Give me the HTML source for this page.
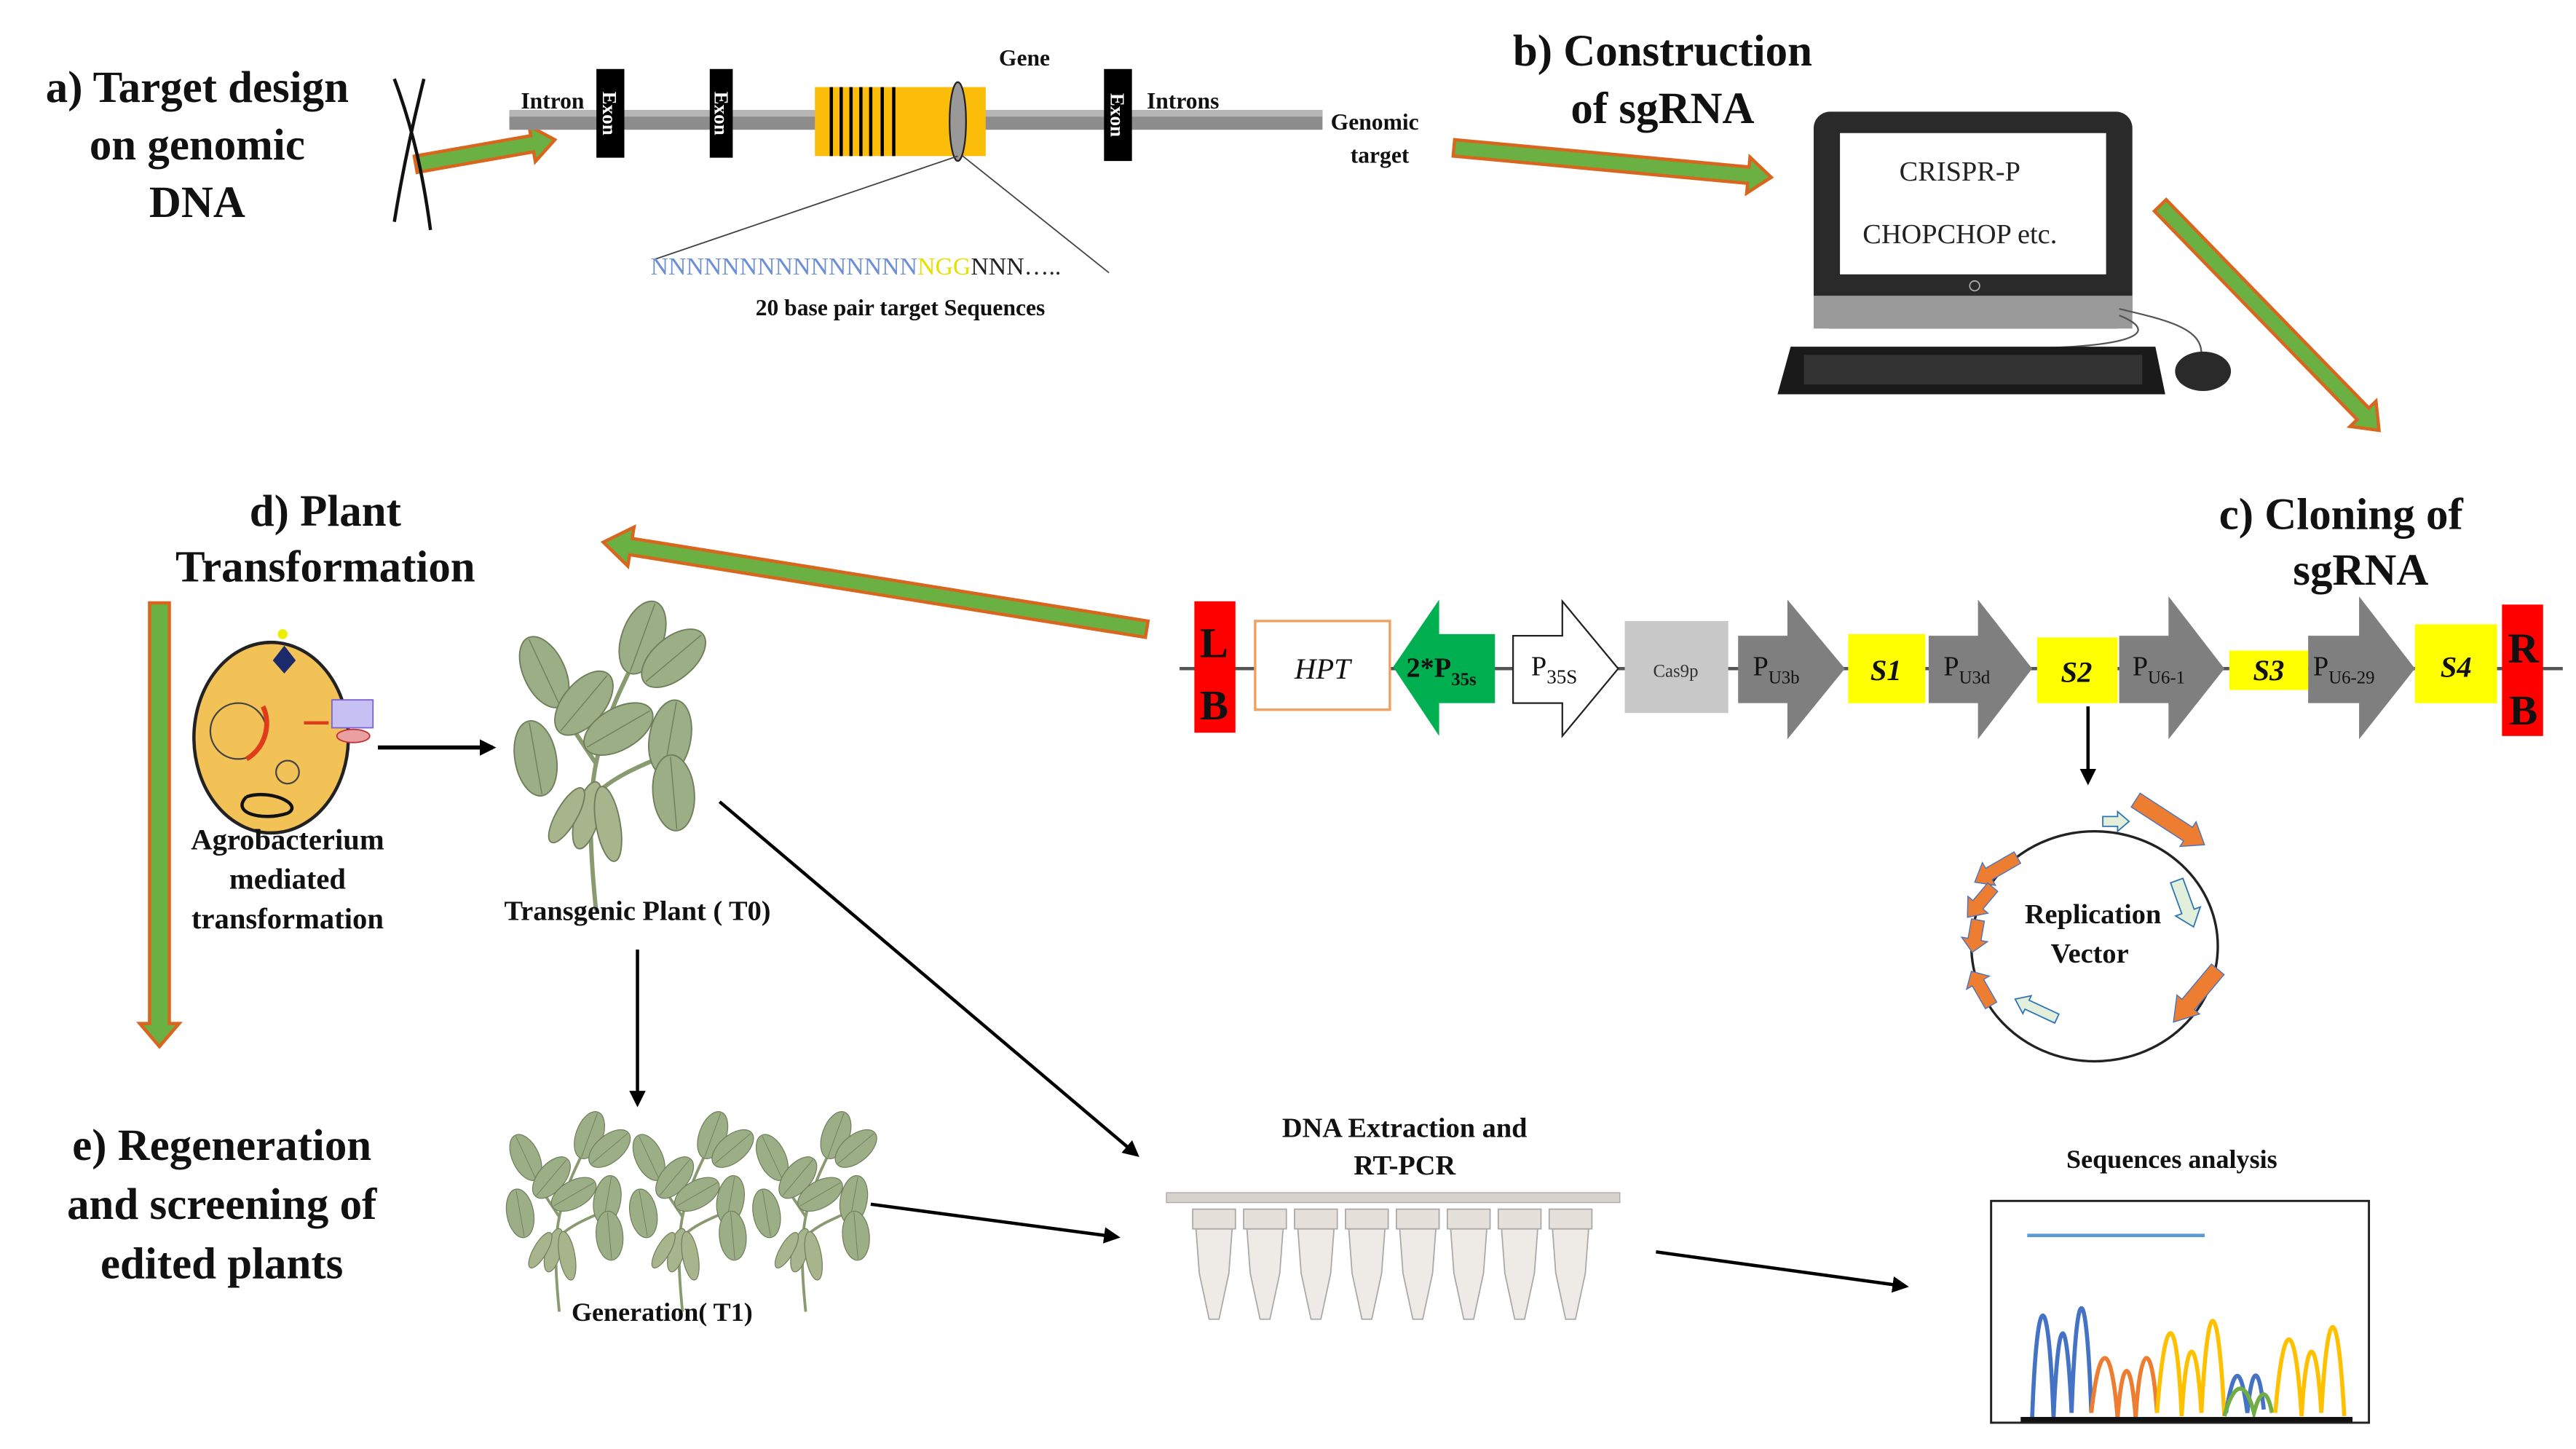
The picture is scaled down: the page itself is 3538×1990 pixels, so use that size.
<!DOCTYPE html>
<html><head><meta charset="utf-8"><style>
html,body{margin:0;padding:0;background:#fff;}
svg{display:block;}
text{font-family:"Liberation Serif",serif;}
.h{font-weight:bold;font-size:27px;fill:#111;text-anchor:middle;}
.b{font-weight:bold;fill:#111;}
</style></head><body>
<svg width="3538" height="1990" viewBox="0 0 1568 882" xmlns="http://www.w3.org/2000/svg">
<defs>
<marker id="ah" markerWidth="10" markerHeight="10" refX="8" refY="5" orient="auto" markerUnits="userSpaceOnUse"><path d="M0,0 L10,5 L0,10 z" fill="#000"/></marker>
<g id="leaf"><ellipse cx="0" cy="0" rx="12" ry="22" fill="#9cae86" stroke="#6f7f5c" stroke-width="0.8"/><line x1="0" y1="-21" x2="0" y2="21" stroke="#6f7f5c" stroke-width="0.6"/></g>
<g id="plant">
<path d="M55,180 C52,150 50,120 55,95 C60,70 70,50 80,30 M55,95 C45,80 35,65 25,50 M58,110 C70,100 85,95 95,90" stroke="#8a9a70" stroke-width="2.5" fill="none"/>
<use href="#leaf" transform="translate(25,42) rotate(-25)"/>
<use href="#leaf" transform="translate(82,22) rotate(20)"/>
<use href="#leaf" transform="translate(100,34) rotate(50)"/>
<use href="#leaf" transform="translate(48,60) rotate(40)"/>
<use href="#leaf" transform="translate(20,92) rotate(-10)"/>
<use href="#leaf" transform="translate(68,75) rotate(60)"/>
<use href="#leaf" transform="translate(98,80) rotate(10)"/>
<use href="#leaf" transform="translate(100,112) rotate(-5)"/>
<ellipse cx="50" cy="125" rx="7" ry="20" fill="#a8b48c" stroke="#6f7f5c" stroke-width="0.8" transform="rotate(15 50 125)"/>
<ellipse cx="62" cy="130" rx="7" ry="22" fill="#a8b48c" stroke="#6f7f5c" stroke-width="0.8" transform="rotate(-10 62 130)"/>
<ellipse cx="38" cy="125" rx="6" ry="18" fill="#a8b48c" stroke="#6f7f5c" stroke-width="0.8" transform="rotate(30 38 125)"/>
</g>
<g id="tube">
<path d="M0,748 L22,748 L20,775 L14,803 L8,803 L2,775 Z" fill="#eeeae6" stroke="#aaa" stroke-width="0.8"/>
<rect x="-2" y="736" width="26" height="12" fill="#e6e0da" stroke="#aaa" stroke-width="0.8"/>
</g>
</defs>

<g fill="#6ab043" stroke="#d9661e" stroke-width="2">
<polygon transform="translate(253,100) rotate(-10)" points="0,-5 72,-5 72,-11 86,0 72,11 72,5 0,5"/>
<polygon transform="translate(885,90) rotate(5.3)" points="0,-5 180,-5 180,-11 194,0 180,11 180,5 0,5"/>
<polygon transform="translate(1315,125) rotate(45.8)" points="0,-5 177,-5 177,-11 191,0 177,11 177,5 0,5"/>
<polygon transform="translate(698,383) rotate(189.1)" points="0,-5 318,-5 318,-12 335,0 318,12 318,5 0,5"/>
<polygon transform="translate(97,367) rotate(90)" points="0,-6 256,-6 256,-12 270,0 256,12 256,6 0,6"/>
</g>

<text class="h" x="120" y="62">a) Target design</text>
<text class="h" x="120" y="97">on genomic</text>
<text class="h" x="120" y="132">DNA</text>
<path d="M240,48 C252,80 258,110 262,140 M258,48 C250,80 244,110 240,135" stroke="#111" stroke-width="2" fill="none"/>
<rect x="310" y="67" width="495" height="12" fill="#8d8d8d"/>
<rect x="310" y="67" width="495" height="4" fill="#b5b5b5"/>
<g fill="#000"><rect x="363" y="42" width="17" height="54"/><rect x="432" y="42" width="14" height="54"/><rect x="672" y="42" width="17" height="56"/></g>
<g font-family="Liberation Serif" font-weight="bold" font-size="12" fill="#fff" text-anchor="middle">
<text transform="translate(367,69) rotate(90)">Exon</text>
<text transform="translate(435,69) rotate(90)">Exon</text>
<text transform="translate(676,70) rotate(90)">Exon</text>
</g>
<rect x="496" y="53" width="104" height="42" fill="#fbbd0a"/>
<g stroke="#000" stroke-width="2"><line x1="506" y1="53" x2="506" y2="95"/><line x1="512" y1="53" x2="512" y2="95"/><line x1="518" y1="53" x2="518" y2="95"/><line x1="524" y1="53" x2="524" y2="95"/><line x1="530" y1="53" x2="530" y2="95"/><line x1="537" y1="53" x2="537" y2="95"/><line x1="544" y1="53" x2="544" y2="95"/></g>
<ellipse cx="583" cy="74" rx="5" ry="24" fill="#999" stroke="#222" stroke-width="1"/>
<line x1="583" y1="95" x2="398" y2="158" stroke="#444" stroke-width="0.8"/>
<line x1="586" y1="95" x2="675" y2="166" stroke="#444" stroke-width="0.8"/>
<text class="b" x="317" y="66" font-size="14">Intron</text>
<text class="b" x="698" y="66" font-size="14">Introns</text>
<text class="b" x="608" y="40" font-size="14">Gene</text>
<text class="b" x="810" y="79" font-size="14">Genomic</text>
<text class="b" x="822" y="99" font-size="14">target</text>
<text x="396" y="167" font-size="15"><tspan fill="#6c8fd6">NNNNNNNNNNNNNNN</tspan><tspan fill="#e6e000">NGG</tspan><tspan fill="#222">NNN…..</tspan></text>
<text class="b" x="548" y="192" font-size="14" text-anchor="middle">20 base pair target Sequences</text>

<text class="h" x="1012" y="40">b) Construction</text>
<text class="h" x="1012" y="75">of sgRNA</text>
<rect x="1104" y="68" width="194" height="132" rx="10" fill="#2a2a2a"/>
<rect x="1104" y="180" width="194" height="20" fill="#9a9a9a"/>
<rect x="1120" y="81" width="162" height="86" fill="#fff"/>
<circle cx="1202" cy="174" r="3" fill="none" stroke="#aaa" stroke-width="0.8"/>
<text x="1193" y="110" font-size="17" text-anchor="middle" fill="#222">CRISPR-P</text>
<text x="1193" y="148" font-size="17" text-anchor="middle" fill="#222">CHOPCHOP etc.</text>
<path d="M1290,188 C1320,195 1340,200 1340,215" stroke="#555" stroke-width="1" fill="none"/>
<path d="M1290,192 C1310,200 1310,210 1240,212" stroke="#555" stroke-width="1" fill="none"/>
<polygon points="1090,211 1312,211 1318,240 1082,240" fill="#1a1a1a"/>
<rect x="1098" y="216" width="206" height="18" fill="#333"/>
<ellipse cx="1341" cy="226" rx="17" ry="12" fill="#2a2a2a"/>

<text class="h" x="1425" y="322">c) Cloning of</text>
<text class="h" x="1437" y="356">sgRNA</text>
<line x1="718" y1="407" x2="1560" y2="407" stroke="#555" stroke-width="2"/>
<rect x="727" y="366" width="25" height="80" fill="#ff0000"/>
<text class="b" x="739" y="400" font-size="26" text-anchor="middle">L</text>
<text class="b" x="739" y="438" font-size="26" text-anchor="middle">B</text>
<rect x="764" y="378" width="82" height="54" fill="#fff" stroke="#f0a060" stroke-width="1.5"/>
<text x="805" y="413" font-size="18" font-style="italic" text-anchor="middle" fill="#111">HPT</text>
<polygon points="848,406 876,365 876,386 910,386 910,428 876,428 876,448" fill="#00b050"/>
<text class="b" x="856" y="412" font-size="17">2*P<tspan font-size="11" dy="5">35s</tspan></text>
<polygon points="921,387 951,387 951,366 985,407 951,448 951,428 921,428" fill="#fff" stroke="#222" stroke-width="1"/>
<text x="932" y="411" font-size="17" fill="#111">P<tspan font-size="12" dy="5">35S</tspan></text>
<rect x="989" y="378" width="63" height="56" fill="#c8c8c8"/>
<text x="1020" y="412" font-size="11" text-anchor="middle" fill="#333">Cas9p</text>
<g fill="#7f7f7f">
<polygon points="1058,387 1088,387 1088,365 1123,407 1088,450 1088,428 1058,428"/>
<polygon points="1174,387 1204,387 1204,365 1237,407 1204,450 1204,428 1174,428"/>
<polygon points="1290,387 1320,387 1320,363 1354,407 1320,450 1320,428 1290,428"/>
<polygon points="1405,387 1436,387 1436,363 1470,407 1436,450 1436,428 1405,428"/>
</g>
<g fill="#111" font-size="17">
<text x="1067" y="411">P<tspan font-size="11" dy="5">U3b</tspan></text>
<text x="1183" y="411">P<tspan font-size="11" dy="5">U3d</tspan></text>
<text x="1298" y="411">P<tspan font-size="11" dy="5">U6-1</tspan></text>
<text x="1408" y="411">P<tspan font-size="11" dy="5">U6-29</tspan></text>
</g>
<g fill="#ffff00"><rect x="1125" y="386" width="47" height="42"/><rect x="1240" y="388" width="49" height="40"/><rect x="1357" y="396" width="48" height="24"/><rect x="1470" y="380" width="50" height="48"/></g>
<g font-size="18" font-style="italic" font-weight="bold" fill="#111" text-anchor="middle">
<text x="1148" y="414">S1</text><text x="1264" y="415">S2</text><text x="1381" y="414">S3</text><text x="1495" y="412">S4</text></g>
<rect x="1523" y="368" width="25" height="80" fill="#ff0000"/>
<text class="b" x="1536" y="403" font-size="26" text-anchor="middle">R</text>
<text class="b" x="1536" y="441" font-size="26" text-anchor="middle">B</text>
<line x1="1271" y1="430" x2="1271" y2="476" stroke="#000" stroke-width="2" marker-end="url(#ah)"/>
<ellipse cx="1275" cy="576" rx="75" ry="70" fill="none" stroke="#222" stroke-width="1.5"/>
<g fill="#ed7d31" stroke="#4472c4" stroke-width="0.6">
<polygon transform="translate(1228,522) rotate(150)" points="0,-4 20,-4 20,-8 30,0 20,8 20,4 0,4"/>
<polygon transform="translate(1213,540) rotate(130)" points="0,-4 14,-4 14,-8 24,0 14,8 14,4 0,4"/>
<polygon transform="translate(1204,560) rotate(100)" points="0,-4 12,-4 12,-8 20,0 12,8 12,4 0,4"/>
<polygon transform="translate(1212,612) rotate(-120)" points="0,-4 16,-4 16,-8 24,0 16,8 16,4 0,4"/>
<polygon transform="translate(1300,487) rotate(33)" points="0,-5 38,-5 38,-9 50,0 38,9 38,5 0,5"/>
<polygon transform="translate(1350,590) rotate(130)" points="0,-5 28,-5 28,-9 42,0 28,9 28,5 0,5"/>
</g>
<g fill="#e2efda" stroke="#2e75b6" stroke-width="0.8">
<polygon transform="translate(1280,500)" points="0,-3 9,-3 9,-6 16,0 9,6 9,3 0,3"/>
<polygon transform="translate(1325,536) rotate(70)" points="0,-4 20,-4 20,-8 30,0 20,8 20,4 0,4"/>
<polygon transform="translate(1252,620) rotate(-155)" points="0,-3 20,-3 20,-6 28,0 20,6 20,3 0,3"/>
</g>
<text class="b" x="1274" y="562" font-size="17" text-anchor="middle">Replication</text>
<text class="b" x="1272" y="586" font-size="17" text-anchor="middle">Vector</text>

<text class="h" x="198" y="320">d) Plant</text>
<text class="h" x="198" y="354">Transformation</text>
<ellipse cx="165" cy="449" rx="47" ry="58" fill="#f2c257" stroke="#222" stroke-width="2"/>
<polygon points="173,393 180,402 173,410 166,402" fill="#1b2a6b"/>
<circle cx="172" cy="386" r="3" fill="#ee0"/>
<circle cx="145" cy="445" r="17" fill="none" stroke="#444" stroke-width="1"/>
<path d="M150,462 C162,455 165,440 160,430" stroke="#e03c1c" stroke-width="3" fill="none"/>
<rect x="202" y="426" width="25" height="17" fill="#c7c0f2" stroke="#7b62d0" stroke-width="0.8"/>
<line x1="185" y1="440" x2="200" y2="440" stroke="#e03c1c" stroke-width="2"/>
<ellipse cx="215" cy="448" rx="10" ry="4" fill="#e9a0a0" stroke="#c03030" stroke-width="0.8"/>
<circle cx="175" cy="470" r="7" fill="none" stroke="#444" stroke-width="1"/>
<path d="M150,485 C140,495 160,500 175,495 C185,490 165,480 150,485" stroke="#111" stroke-width="2" fill="none"/>
<line x1="230" y1="455" x2="300" y2="455" stroke="#000" stroke-width="2.5" marker-end="url(#ah)"/>
<text class="b" x="175" y="517" font-size="18" text-anchor="middle">Agrobacterium</text>
<text class="b" x="175" y="541" font-size="18" text-anchor="middle">mediated</text>
<text class="b" x="175" y="565" font-size="18" text-anchor="middle">transformation</text>
<use href="#plant" transform="translate(305,365) scale(1.05)"/>
<text class="b" x="388" y="560" font-size="17" text-anchor="middle">Transgenic Plant ( T0)</text>
<line x1="388" y1="578" x2="388" y2="672" stroke="#000" stroke-width="2" marker-end="url(#ah)"/>
<line x1="438" y1="488" x2="692" y2="703" stroke="#000" stroke-width="2" marker-end="url(#ah)"/>

<text class="h" x="135" y="706">e) Regeneration</text>
<text class="h" x="135" y="742">and screening of</text>
<text class="h" x="135" y="778">edited plants</text>
<use href="#plant" transform="translate(303,676) scale(0.68)"/>
<use href="#plant" transform="translate(378,676) scale(0.68)"/>
<use href="#plant" transform="translate(453,676) scale(0.68)"/>
<text class="b" x="403" y="804" font-size="16" text-anchor="middle">Generation( T1)</text>
<line x1="530" y1="733" x2="680" y2="753" stroke="#000" stroke-width="2" marker-end="url(#ah)"/>
<text class="b" x="855" y="692" font-size="17" text-anchor="middle">DNA Extraction and</text>
<text class="b" x="855" y="715" font-size="17" text-anchor="middle">RT-PCR</text>
<rect x="710" y="726" width="276" height="6" fill="#d8d2cc" stroke="#aaa" stroke-width="0.6"/>
<use href="#tube" transform="translate(728,0)"/>
<use href="#tube" transform="translate(759,0)"/>
<use href="#tube" transform="translate(790,0)"/>
<use href="#tube" transform="translate(821,0)"/>
<use href="#tube" transform="translate(852,0)"/>
<use href="#tube" transform="translate(883,0)"/>
<use href="#tube" transform="translate(914,0)"/>
<use href="#tube" transform="translate(945,0)"/>
<line x1="1008" y1="762" x2="1160" y2="783" stroke="#000" stroke-width="2" marker-end="url(#ah)"/>
<text class="b" x="1322" y="711" font-size="16" text-anchor="middle">Sequences analysis</text>
<rect x="1212" y="731" width="230" height="135" fill="#fff" stroke="#222" stroke-width="1.3"/>
<line x1="1234" y1="752" x2="1342" y2="752" stroke="#5b9bd5" stroke-width="2"/>
<g fill="none" stroke-width="2.5">
<path d="M1237,863 C1240,780 1247,780 1250,863 C1253,795 1258,795 1261,860 C1264,775 1270,775 1273,860" stroke="#4472c4"/>
<path d="M1273,860 C1278,815 1285,815 1289,863 C1292,825 1297,825 1300,863 C1303,815 1310,815 1313,860" stroke="#ed7d31"/>
<path d="M1313,860 C1318,795 1325,795 1328,862 C1331,810 1337,810 1340,860 C1344,785 1350,785 1354,862" stroke="#ffc000"/>
<path d="M1355,860 C1360,830 1364,830 1368,860 C1371,830 1375,830 1378,858" stroke="#4472c4"/>
<path d="M1354,862 C1360,840 1367,840 1372,860 C1376,845 1380,845 1383,860" stroke="#70ad47"/>
<path d="M1385,860 C1390,800 1397,800 1401,862 C1404,810 1410,810 1413,860 C1417,790 1423,790 1427,862" stroke="#ffc000"/>
</g>
<line x1="1230" y1="864" x2="1432" y2="864" stroke="#111" stroke-width="3"/>
</svg>
</body></html>
